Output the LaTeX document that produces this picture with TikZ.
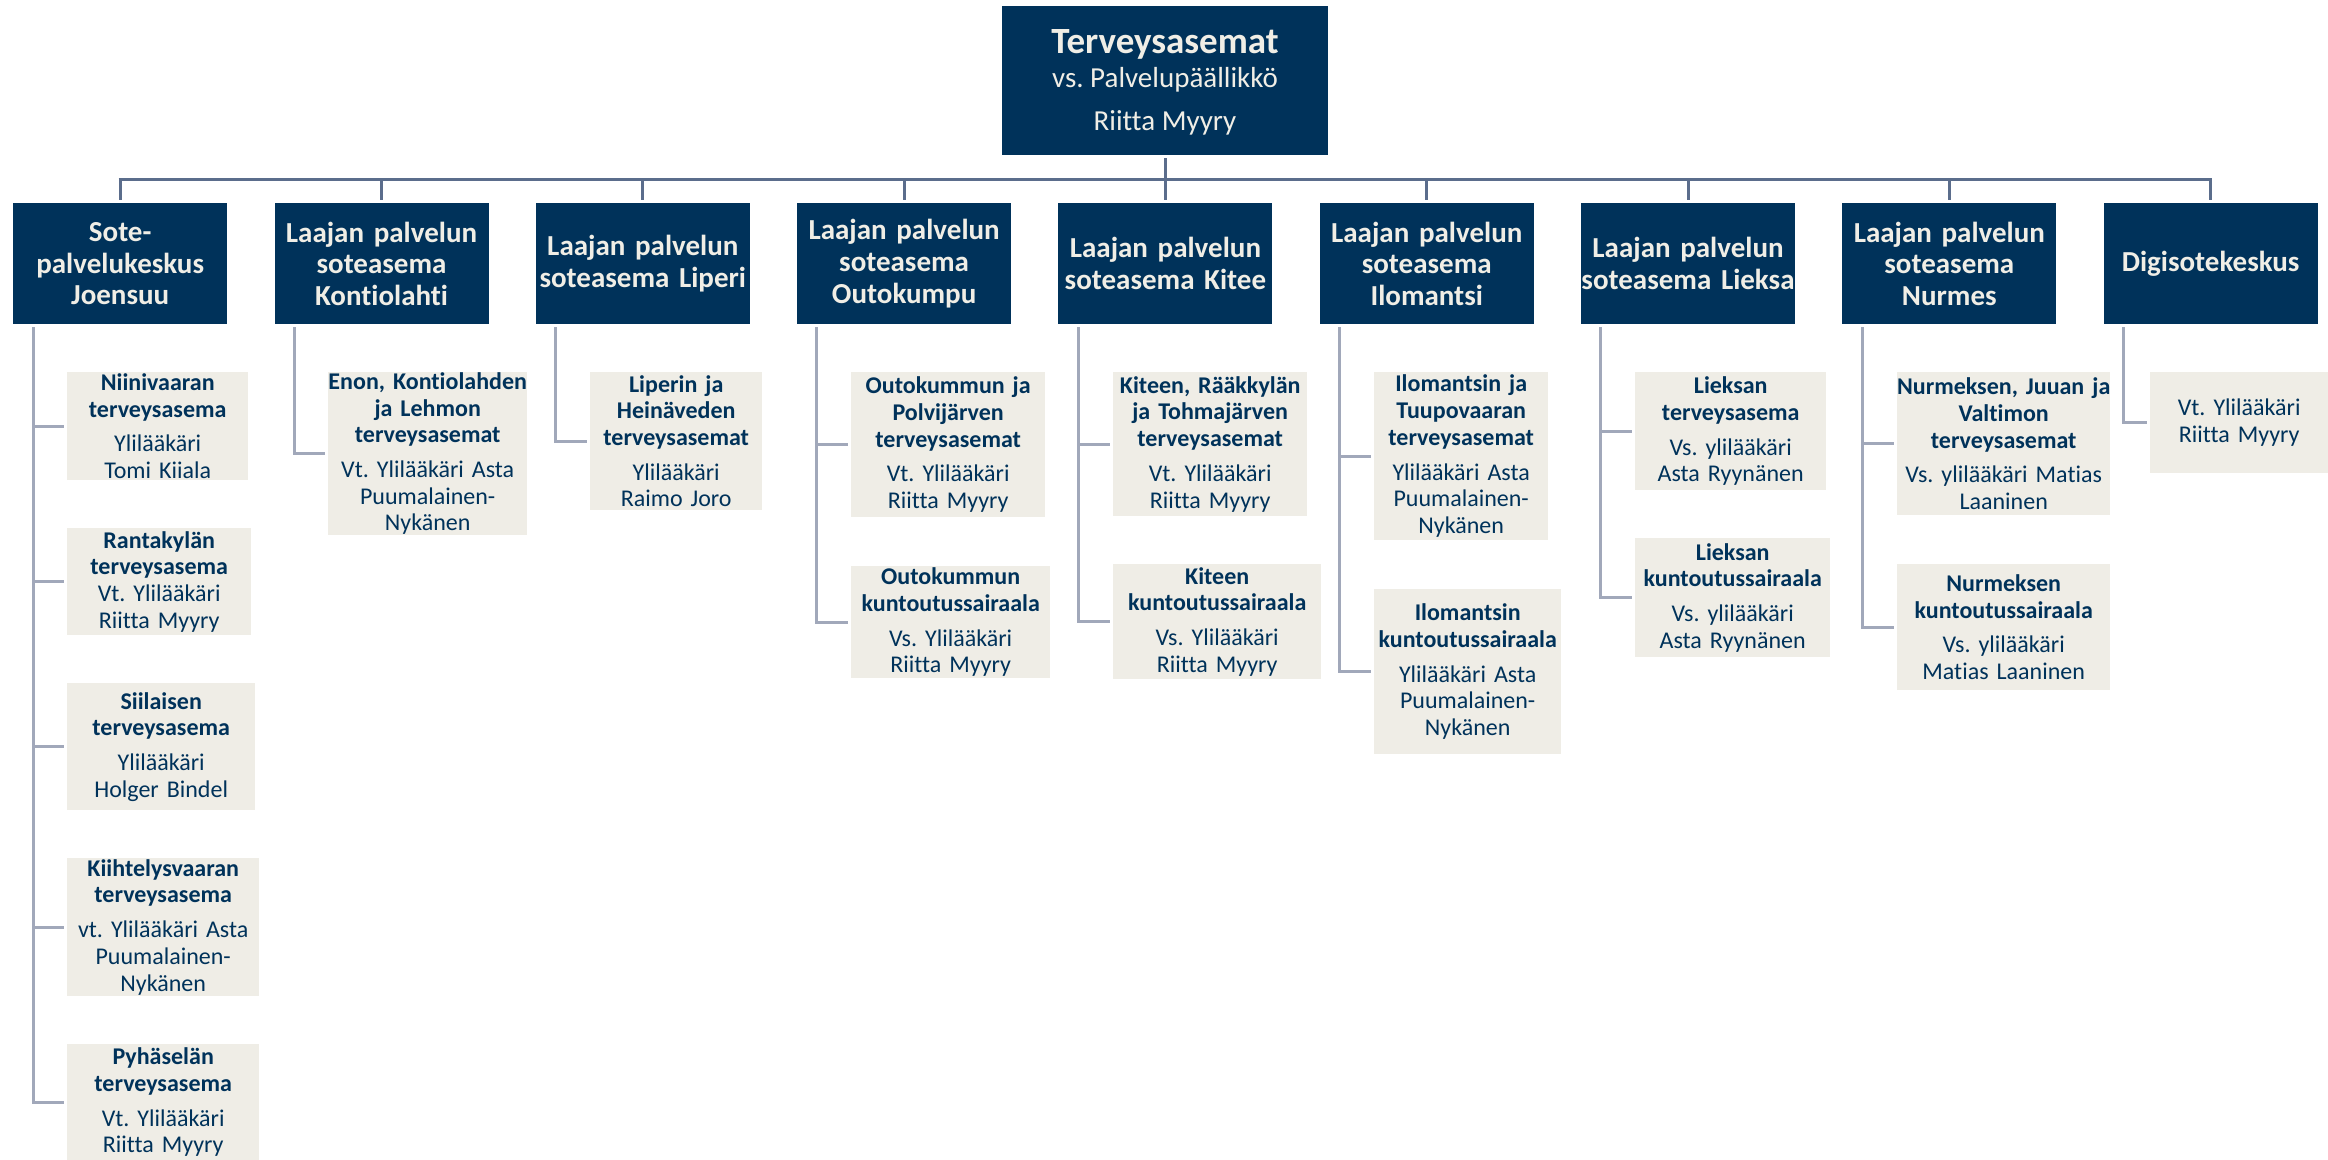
\documentclass[tikz,border=0pt]{standalone}
\usepackage{fontspec}
\setmainfont{Carlito}[Ligatures=NoCommon]
\frenchspacing
\definecolor{navy}{HTML}{00325A}
\definecolor{cream}{HTML}{F0EEE6}
\definecolor{beige}{HTML}{EFEDE6}
\definecolor{tcol}{HTML}{5B6D8C}
\definecolor{ccol}{HTML}{A1A8BA}
\tikzset{
  hbox/.style={fill=navy, draw=none, minimum width=214pt, minimum height=121pt, anchor=north west, inner sep=0pt},
  htext/.style={text=cream, font=\fontsize{29}{31.7}\selectfont\bfseries, align=center, text width=280pt, inner sep=0pt},
  toptitle/.style={text=cream, font=\fontsize{37}{40}\selectfont\bfseries, inner sep=0pt},
  topsub/.style={text=cream, font=\fontsize{29}{32}\selectfont, inner sep=0pt},
  cbox/.style={fill=beige, draw=none, anchor=north west, inner sep=0pt},
  ctext/.style={text=navy, font=\fontsize{24}{26.7}\selectfont, align=center, text width=260pt, inner sep=0pt},
  tline/.style={draw=tcol, line width=3pt},
  cline/.style={draw=ccol, line width=3pt, shorten >=3pt},
}
\newcommand{\ttl}[1]{\textbf{#1}}
\begin{document}
\begin{tikzpicture}[x=1pt,y=-1pt]
\useasboundingbox (0,0) rectangle (2328,1159);

% top box
\node[hbox, minimum width=326pt, minimum height=149pt] (top) at (1002,6) {};
\node[toptitle, anchor=base] (t1) at (1165,53) {Terveysasemat};
\node[topsub, anchor=base] (t2) at (1165,87) {vs. Palvelupäällikkö};
\node[topsub, anchor=base] (t3) at (1165,130) {Riitta Myyry};

% headers
\node[hbox] (h0) at (13,203) {};
\node[hbox] (h1) at (274.3,203) {};
\node[hbox] (h2) at (535.6,203) {};
\node[hbox] (h3) at (796.9,203) {};
\node[hbox] (h4) at (1058.2,203) {};
\node[hbox] (h5) at (1319.5,203) {};
\node[hbox] (h6) at (1580.8,203) {};
\node[hbox] (h7) at (1842.1,203) {};
\node[hbox] (h8) at (2103.4,203) {};
\node[htext] (h0t) at (h0.center) {Sote-\\palvelukeskus\\Joensuu};
\node[htext] (h1t) at (h1.center) {Laajan palvelun\\soteasema\\Kontiolahti};
\node[htext] (h2t) at (h2.center) {Laajan palvelun\\soteasema Liperi};
\node[htext] (h3t) at (h3.center) {Laajan palvelun\\soteasema\\Outokumpu};
\node[htext] (h4t) at (h4.center) {Laajan palvelun\\soteasema Kitee};
\node[htext] (h5t) at (h5.center) {Laajan palvelun\\soteasema\\Ilomantsi};
\node[htext] (h6t) at (h6.center) {Laajan palvelun\\soteasema Lieksa};
\node[htext] (h7t) at (h7.center) {Laajan palvelun\\soteasema\\Nurmes};
\node[htext] (h8t) at (h8.center) {Digisotekeskus};

% top connectors
\coordinate (bus) at (0,179.5);
\draw[tline] ([yshift=-3pt]top.south) -- (top.south |- bus);
\draw[tline] ([xshift=-1.5pt]h0.north |- bus) -- ([xshift=1.5pt]h8.north |- bus);
\foreach \h in {h0,h1,h2,h3,h4,h5,h6,h7,h8}{
  \draw[tline] (\h.north |- bus) -- ([yshift=3pt]\h.north);
}

% children boxes
\node[cbox, minimum width=181pt, minimum height=108pt] (c01) at (67,372) {};
\node[cbox, minimum width=184pt, minimum height=107pt] (c02) at (67,528) {};
\node[cbox, minimum width=188pt, minimum height=127pt] (c03) at (67,683) {};
\node[cbox, minimum width=192pt, minimum height=138pt] (c04) at (67,858) {};
\node[cbox, minimum width=192pt, minimum height=116pt] (c05) at (67,1044) {};
\node[cbox, minimum width=199pt, minimum height=163pt] (c11) at (328,372) {};
\node[cbox, minimum width=172pt, minimum height=138pt] (c21) at (590,372) {};
\node[cbox, minimum width=194pt, minimum height=145pt] (c31) at (851,372) {};
\node[cbox, minimum width=199pt, minimum height=112pt] (c32) at (851,566) {};
\node[cbox, minimum width=194pt, minimum height=144pt] (c41) at (1113,372) {};
\node[cbox, minimum width=208pt, minimum height=115pt] (c42) at (1113,564) {};
\node[cbox, minimum width=174pt, minimum height=168pt] (c51) at (1374,372) {};
\node[cbox, minimum width=187pt, minimum height=165pt] (c52) at (1374,589) {};
\node[cbox, minimum width=191pt, minimum height=118pt] (c61) at (1635,372) {};
\node[cbox, minimum width=195pt, minimum height=119pt] (c62) at (1635,538) {};
\node[cbox, minimum width=213pt, minimum height=143pt] (c71) at (1897,372) {};
\node[cbox, minimum width=213pt, minimum height=126pt] (c72) at (1897,564) {};
\node[cbox, minimum width=178pt, minimum height=101pt] (c81) at (2150,372) {};

% children texts
\node[ctext] (c01t) at (c01.center) {\ttl{Niinivaaran}\\\ttl{terveysasema}\\[8pt]Ylilääkäri\\Tomi Kiiala};
\node[ctext] (c02t) at (c02.center) {\ttl{Rantakylän}\\\ttl{terveysasema}\\Vt. Ylilääkäri\\Riitta Myyry};
\node[ctext] (c03t) at (c03.center) {\ttl{Siilaisen}\\\ttl{terveysasema}\\[8pt]Ylilääkäri\\Holger Bindel};
\node[ctext] (c04t) at (c04.center) {\ttl{Kiihtelysvaaran}\\\ttl{terveysasema}\\[8pt]vt. Ylilääkäri Asta\\Puumalainen-\\Nykänen};
\node[ctext] (c05t) at (c05.center) {\ttl{Pyhäselän}\\\ttl{terveysasema}\\[8pt]Vt. Ylilääkäri\\Riitta Myyry};
\node[ctext] (c11t) at (c11.center) {\ttl{Enon, Kontiolahden}\\\ttl{ja Lehmon}\\\ttl{terveysasemat}\\[8pt]Vt. Ylilääkäri Asta\\Puumalainen-\\Nykänen};
\node[ctext] (c21t) at (c21.center) {\ttl{Liperin ja}\\\ttl{Heinäveden}\\\ttl{terveysasemat}\\[8pt]Ylilääkäri\\Raimo Joro};
\node[ctext] (c31t) at (c31.center) {\ttl{Outokummun ja}\\\ttl{Polvijärven}\\\ttl{terveysasemat}\\[8pt]Vt. Ylilääkäri\\Riitta Myyry};
\node[ctext] (c32t) at (c32.center) {\ttl{Outokummun}\\\ttl{kuntoutussairaala}\\[8pt]Vs. Ylilääkäri\\Riitta Myyry};
\node[ctext] (c41t) at (c41.center) {\ttl{Kiteen, Rääkkylän}\\\ttl{ja Tohmajärven}\\\ttl{terveysasemat}\\[8pt]Vt. Ylilääkäri\\Riitta Myyry};
\node[ctext] (c42t) at (c42.center) {\ttl{Kiteen}\\\ttl{kuntoutussairaala}\\[8pt]Vs. Ylilääkäri\\Riitta Myyry};
\node[ctext] (c51t) at (c51.center) {\ttl{Ilomantsin ja}\\\ttl{Tuupovaaran}\\\ttl{terveysasemat}\\[8pt]Ylilääkäri Asta\\Puumalainen-\\Nykänen};
\node[ctext] (c52t) at (c52.center) {\ttl{Ilomantsin}\\\ttl{kuntoutussairaala}\\[8pt]Ylilääkäri Asta\\Puumalainen-\\Nykänen};
\node[ctext] (c61t) at (c61.center) {\ttl{Lieksan}\\\ttl{terveysasema}\\[8pt]Vs. ylilääkäri\\Asta Ryynänen};
\node[ctext] (c62t) at (c62.center) {\ttl{Lieksan}\\\ttl{kuntoutussairaala}\\[8pt]Vs. ylilääkäri\\Asta Ryynänen};
\node[ctext] (c71t) at (c71.center) {\ttl{Nurmeksen, Juuan ja}\\\ttl{Valtimon}\\\ttl{terveysasemat}\\[8pt]Vs. ylilääkäri Matias\\Laaninen};
\node[ctext] (c72t) at (c72.center) {\ttl{Nurmeksen}\\\ttl{kuntoutussairaala}\\[8pt]Vs. ylilääkäri\\Matias Laaninen};
\node[ctext] (c81t) at (c81.center) {Vt. Ylilääkäri\\Riitta Myyry};

% child connectors
\foreach \h in {h0,h1,h2,h3,h4,h5,h6,h7,h8}{
  \coordinate (\h v) at ([xshift=20pt,yshift=-3pt]\h.south west);
}
\foreach \h/\c in {h0/c01,h0/c02,h0/c03,h0/c04,h0/c05,h1/c11,h2/c21,h3/c31,h3/c32,h4/c41,h4/c42,h5/c51,h5/c52,h6/c61,h6/c62,h7/c71,h7/c72,h8/c81}{
  \draw[cline] (\h v) |- (\c.west);
}
\end{tikzpicture}
\end{document}
